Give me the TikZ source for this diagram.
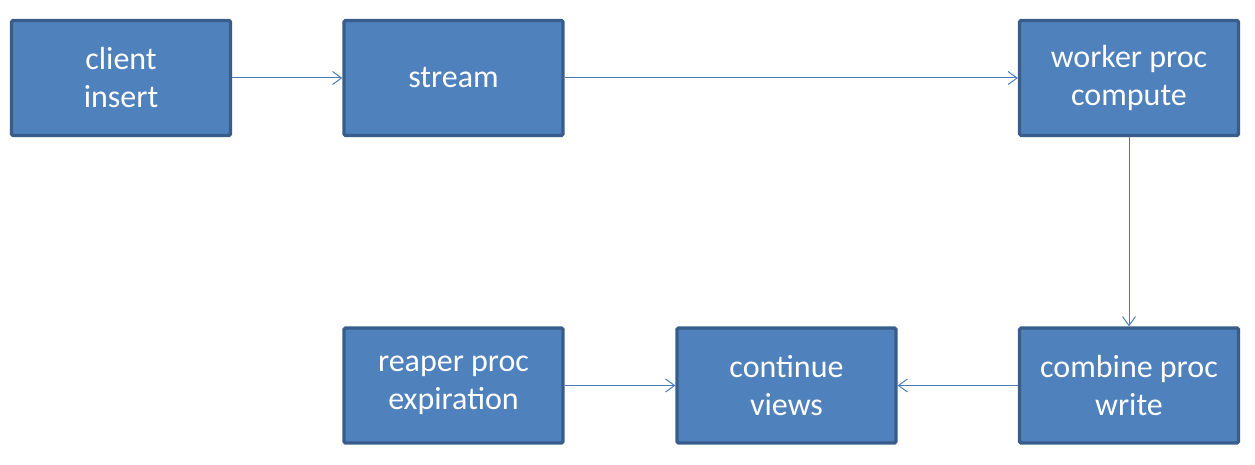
\documentclass[tikz,border=0pt]{standalone}
\usepackage{fontspec}
\setmainfont{Carlito}
\usetikzlibrary{arrows.meta}
\definecolor{boxfill}{HTML}{4F81BD}
\definecolor{boxline}{HTML}{385D8A}
\definecolor{arrowc}{HTML}{4A7EBB}
\begin{document}
\begin{tikzpicture}[x=1pt,y=-1pt,
  procbox/.style={draw=boxline,fill=boxfill,line width=3.2pt,rounded corners=1.5pt,
    minimum width=219pt,minimum height=115pt,inner sep=0pt,align=center,
    text=white,font=\fontsize{32}{38}\selectfont},
  flow/.style={draw=arrowc,line width=1pt,-{Straight Barb[length=9pt,width=13pt]}}]
\useasboundingbox (0,0) rectangle (1255,465);
\node[procbox] (client) at (121,78) {client\\insert};
\node[procbox] (stream) at (453.5,78) {stream};
\node[procbox] (worker) at (1129,78) {worker proc\\compute};
\node[procbox] (reaper) at (453.5,385.5) {reaper proc\\expiration};
\node[procbox] (continue) at (786.5,385.5) {continue\\views};
\node[procbox] (combine) at (1129,385.5) {combine proc\\write};
\draw[flow] (client.east) -- (stream.west);
\draw[flow] (stream.east) -- (worker.west);
\draw[flow] (worker.south) -- (combine.north);
\draw[flow] (combine.west) -- (continue.east);
\draw[flow] (reaper.east) -- (continue.west);
\end{tikzpicture}
\end{document}
